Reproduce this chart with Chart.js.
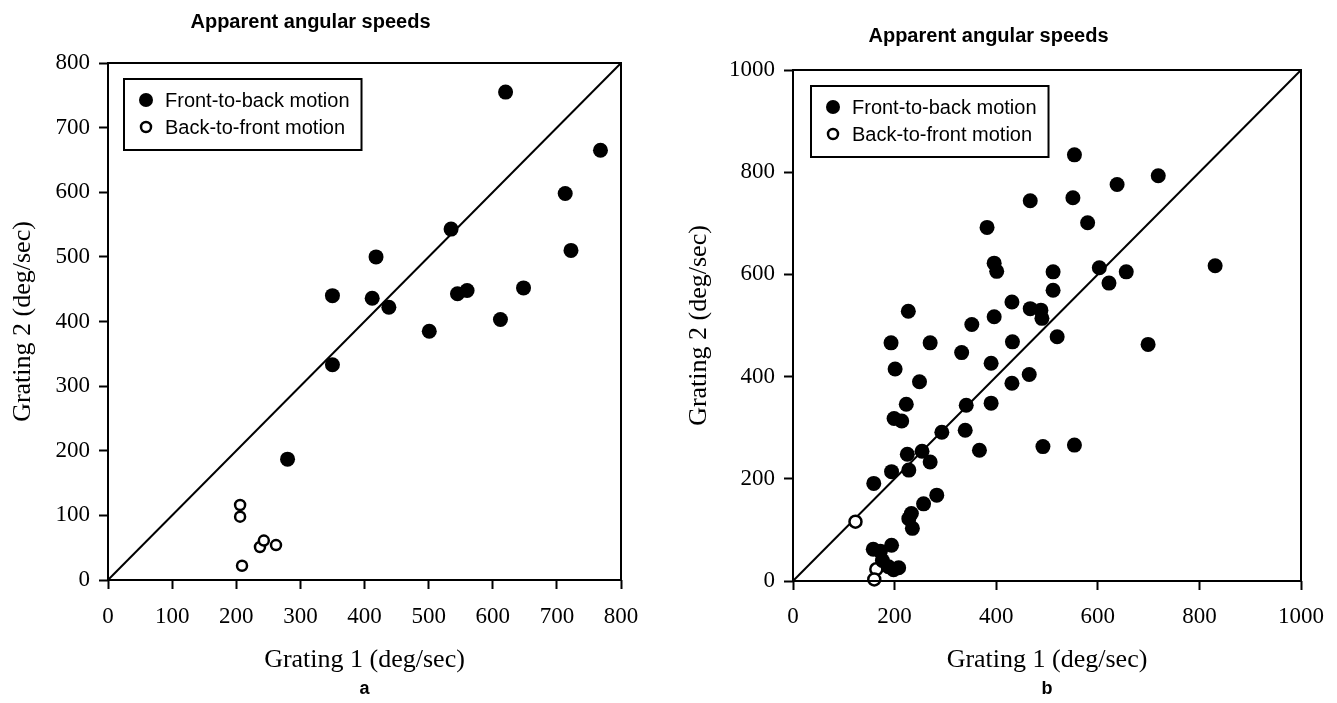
<!DOCTYPE html>
<html>
<head>
<meta charset="utf-8">
<script src="https://cdn.jsdelivr.net/npm/chart.js@4.4.1/dist/chart.umd.min.js"></script>
<style>
  html, body { margin: 0; padding: 0; background: #fff; }
  body { width: 1337px; height: 703px; position: relative; overflow: hidden; }
  .panel { position: absolute; top: 0; height: 703px; }
  #panelA { left: 0; width: 668px; }
  #panelB { left: 668px; width: 669px; }
</style>
</head>
<body>
<div class="panel" id="panelA"><canvas id="chartA"></canvas></div>
<div class="panel" id="panelB"><canvas id="chartB"></canvas></div>
<script>
// textos
const titleText = "Apparent angular speeds";
const xTitle = "Grating 1 (deg/sec)";
const yTitle = "Grating 2 (deg/sec)";
const seriesNames = ["Front-to-back motion", "Back-to-front motion"];

// panel a
const ticksA = [0, 100, 200, 300, 400, 500, 600, 700, 800];
const frontAx = [350, 350, 418, 412, 438, 501, 535, 545, 560, 612, 620, 648, 713, 722, 768, 280];
const frontAy = [440, 333, 500, 436, 422, 385, 543, 443, 448, 403, 755, 452, 598, 510, 665, 187];
const backAx = [206, 206, 209, 237, 243, 262];
const backAy = [116, 98, 22, 51, 61, 54];
const diagA = [0, 800];

// panel b
const ticksB = [0, 200, 400, 600, 800, 1000];
const frontBx = [467, 382, 396, 401, 227, 431, 396, 467, 488, 490, 352, 554, 638, 719, 551, 580,
                 512, 512, 603, 622, 656, 831, 520, 699, 492, 554, 193, 270, 332, 432, 201, 249,
                 390, 465, 431, 223, 341, 390, 199, 214, 339, 293, 367, 225, 254, 270, 228, 194,
                 159, 283, 257, 233, 228, 235, 158, 172, 176, 194, 188, 208, 198];
const frontBy = [744, 692, 622, 606, 528, 546, 517, 533, 530, 514, 502, 834, 776, 793, 750, 701,
                 605, 569, 613, 583, 605, 617, 478, 463, 263, 266, 466, 466, 447, 468, 415, 390,
                 426, 404, 387, 346, 344, 348, 318, 313, 295, 291, 256, 248, 254, 233, 217, 214,
                 191, 168, 151, 132, 122, 103, 62, 58, 40, 70, 28, 26, 22];
const backBx = [123, 164, 160];
const backBy = [116, 23, 3];
const diagB = [0, 1000];

const SERIF = "'Liberation Serif', 'Times New Roman', serif";
const SANS = "'Liberation Sans', Arial, Helvetica, sans-serif";
Chart.defaults.font.family = SERIF;
Chart.defaults.color = '#000';

const toPts = (xs, ys) => xs.map((x, i) => ({ x: x, y: ys[i] }));

// marco completo alrededor del area
const framePlugin = {
    id: 'frame',
    afterDraw(chart) {
        const a = chart.chartArea;
        const ctx = chart.ctx;
        ctx.save();
        ctx.strokeStyle = '#000';
        ctx.lineWidth = 2;
        ctx.strokeRect(a.left, a.top, a.right - a.left, a.bottom - a.top);
        ctx.restore();
    }
};

// leyenda con caja dentro del grafico
const boxLegend = {
    id: 'boxLegend',
    afterDraw(chart, args, opts) {
        const ctx = chart.ctx;
        const a = chart.chartArea;
        const left = a.left + opts.dx;
        const top = a.top + opts.dy;
        const items = chart.data.datasets.filter(d => d.inLegend);
        ctx.save();
        ctx.font = '20px ' + SANS;
        let maxW = 0;
        items.forEach(d => { maxW = Math.max(maxW, ctx.measureText(d.label).width); });
        ctx.lineWidth = 2;
        ctx.strokeStyle = '#000';
        ctx.strokeRect(left, top, 41 + maxW + 12, 71);
        items.forEach((d, i) => {
            const cy = top + 21 + i * 27;
            ctx.beginPath();
            if (d.pointBackgroundColor === '#fff') {
                ctx.arc(left + 22, cy, 5, 0, Math.PI * 2);
                ctx.fillStyle = '#fff';
                ctx.fill();
                ctx.lineWidth = 2.5;
                ctx.stroke();
            } else {
                ctx.arc(left + 22, cy, 7, 0, Math.PI * 2);
                ctx.fillStyle = '#000';
                ctx.fill();
            }
            ctx.fillStyle = '#000';
            ctx.textBaseline = 'middle';
            ctx.fillText(d.label, left + 41, cy + 1);
        });
        ctx.restore();
    }
};

function makeChart(id, cfg) {
    const datasets = [
        {
            label: seriesNames[0],
            data: toPts(cfg.fx, cfg.fy),
            inLegend: true,
            pointRadius: 7.5,
            pointBackgroundColor: '#000',
            pointBorderWidth: 0,
            clip: false
        },
        {
            label: seriesNames[1],
            data: toPts(cfg.bx, cfg.by),
            inLegend: true,
            pointRadius: cfg.openR,
            pointBackgroundColor: '#fff',
            pointBorderColor: '#000',
            pointBorderWidth: 2.5,
            clip: false
        },
        {
            label: 'diagonal',
            data: toPts(cfg.diag, cfg.diag),
            showLine: true,
            borderColor: '#000',
            borderWidth: 2,
            pointRadius: 0
        }
    ];
    const gridOpts = {
        display: true,
        drawOnChartArea: false,
        drawTicks: true,
        tickLength: 9,
        tickWidth: 2,
        tickColor: '#000',
        color: '#000'
    };
    return new Chart(document.getElementById(id), {
        type: 'scatter',
        data: { datasets: datasets },
        options: {
            responsive: true,
            maintainAspectRatio: false,
            animation: false,
            events: [],
            layout: { padding: { left: 0, right: cfg.padRight, top: 0, bottom: 0 } },
            scales: {
                x: {
                    type: 'linear',
                    position: 'bottom',
                    min: cfg.ticks[0],
                    max: cfg.ticks[cfg.ticks.length - 1],
                    afterBuildTicks: s => { s.ticks = cfg.ticks.map(v => ({ value: v })); },
                    afterFit: s => { s.height = cfg.xHeight; },
                    grid: gridOpts,
                    border: { display: false },
                    ticks: {
                        autoSkip: false,
                        maxRotation: 0,
                        padding: cfg.xPad,
                        font: { size: 23 },
                        callback: v => String(v)
                    },
                    title: {
                        display: true,
                        text: xTitle,
                        font: { size: 26 },
                        padding: { top: 0, bottom: 1.5 }
                    }
                },
                xa: {
                    type: 'linear',
                    position: 'bottom',
                    weight: 1,
                    grid: { display: false },
                    border: { display: false },
                    ticks: { display: false },
                    afterFit: s => { s.height = 26; },
                    title: {
                        display: true,
                        text: cfg.letter,
                        font: { family: SANS, size: 18, weight: 'bold' },
                        padding: { top: 0, bottom: 3 }
                    }
                },
                y: {
                    type: 'linear',
                    position: 'left',
                    min: cfg.ticks[0],
                    max: cfg.ticks[cfg.ticks.length - 1],
                    afterBuildTicks: s => { s.ticks = cfg.ticks.map(v => ({ value: v })); },
                    afterFit: s => { s.width = cfg.yWidth; },
                    grid: gridOpts,
                    border: { display: false },
                    ticks: {
                        autoSkip: false,
                        padding: 9,
                        font: { size: 23 },
                        callback: v => String(v)
                    },
                    title: {
                        display: true,
                        text: yTitle,
                        font: { size: 26 },
                        padding: { top: cfg.yTitlePad, bottom: 0 }
                    }
                }
            },
            plugins: {
                legend: { display: false },
                tooltip: { enabled: false },
                title: {
                    display: true,
                    text: titleText,
                    color: '#000',
                    font: { family: SANS, size: 20, weight: 'bold' },
                    padding: { top: cfg.titleTop, bottom: cfg.titleBottom }
                },
                boxLegend: { dx: cfg.legDx, dy: cfg.legDy }
            }
        },
        plugins: [framePlugin, boxLegend]
    });
}

makeChart('chartA', {
    ticks: ticksA, fx: frontAx, fy: frontAy, bx: backAx, by: backAy, diag: diagA,
    openR: 5, letter: 'a', padRight: 47, xHeight: 97, yWidth: 108, xPad: 14,
    yTitlePad: 8, titleTop: 10, titleBottom: 29, legDx: 16, legDy: 16
});

makeChart('chartB', {
    ticks: ticksB, fx: frontBx, fy: frontBy, bx: backBx, by: backBy, diag: diagB,
    openR: 6, letter: 'b', padRight: 28, xHeight: 96, yWidth: 125, xPad: 13,
    yTitlePad: 16, titleTop: 24, titleBottom: 22, legDx: 18, legDy: 16
});
</script>
</body>
</html>
